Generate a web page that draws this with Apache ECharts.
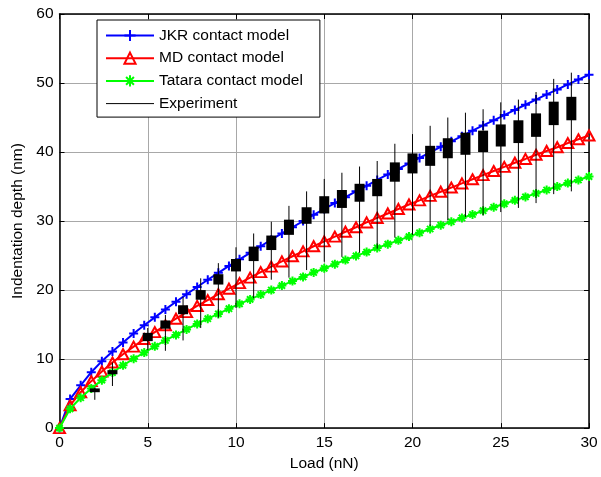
<!DOCTYPE html>
<html>
<head>
<meta charset="utf-8">
<script src="https://cdn.jsdelivr.net/npm/echarts@6/dist/echarts.min.js"></script>
<style>
html,body{margin:0;padding:0;background:#fff;}
#chart{width:601px;height:477px;}
</style>
</head>
<body>
<div id="chart"></div>
<script>
// ---- data ----
const loads = [0,0.6,1.2,1.8,2.4,3,3.6,4.2,4.8,5.4,6,6.6,7.2,7.8,8.4,9,9.6,10.2,10.8,11.4,12,12.6,13.2,13.8,14.4,15,15.6,16.2,16.8,17.4,18,18.6,19.2,19.8,20.4,21,21.6,22.2,22.8,23.4,24,24.6,25.2,25.8,26.4,27,27.6,28.2,28.8,29.4,30];
const jkr = [0,4.2,6.2,8.1,9.7,11.1,12.4,13.7,14.9,16.05,17.2,18.3,19.4,20.45,21.5,22.5,23.5,24.45,25.4,26.35,27.3,28.2,29.1,30.0,30.9,31.75,32.6,33.45,34.3,35.1,35.95,36.75,37.55,38.35,39.15,39.95,40.75,41.55,42.3,43.1,43.85,44.6,45.35,46.1,46.85,47.6,48.35,49.05,49.8,50.5,51.2];
const md = [0,3.3,5.2,6.8,8.2,9.5,10.7,11.8,12.9,13.9,14.9,15.85,16.8,17.7,18.55,19.4,20.2,21.0,21.8,22.6,23.4,24.15,24.9,25.6,26.35,27.05,27.75,28.45,29.1,29.8,30.45,31.1,31.75,32.4,33.0,33.65,34.25,34.85,35.45,36.05,36.65,37.25,37.85,38.45,39.0,39.6,40.15,40.7,41.3,41.85,42.4];
const tatara = [0,2.8,4.4,5.75,6.95,8.05,9.1,10.05,10.95,11.85,12.7,13.5,14.3,15.1,15.85,16.55,17.3,18.0,18.65,19.35,20.0,20.65,21.3,21.9,22.55,23.15,23.75,24.35,24.95,25.5,26.1,26.65,27.2,27.75,28.3,28.85,29.4,29.9,30.45,30.95,31.5,32.0,32.5,33.0,33.5,34.0,34.5,35.0,35.5,35.95,36.45];
const expLoad    = [2,3,5,6,7,8,9,10,11,12,13,14,15,16,17,18,19,20,21,22,23,24,25,26,27,28,29];
const expBoxLow  = [5.2,7.8,12.6,14.4,16.5,18.6,20.8,22.7,24.2,25.8,28.0,29.6,31.1,31.9,32.8,33.6,35.7,36.9,38.0,39.1,39.6,40.0,40.8,41.3,42.2,43.9,44.6];
const expBoxHigh = [5.75,8.4,13.8,15.6,17.8,20.0,22.3,24.5,26.3,27.9,30.2,32.0,33.6,34.5,35.4,36.1,38.5,39.8,40.9,42.0,42.8,43.1,44.0,44.6,45.6,47.3,48.0];
const expMin     = [4.1,6.1,11.3,11.2,12.7,14.5,16.0,17.4,18.8,21.5,21.8,22.9,24.1,24.8,25.4,26.0,27.6,28.0,29.3,30.1,30.6,30.8,31.3,31.9,32.6,33.9,34.3];
const expMax     = [5.9,9.5,14.5,16.4,19.0,21.7,23.9,26.2,28.2,29.9,32.2,34.3,36.1,37.0,37.9,38.7,41.2,42.6,43.8,45.0,45.7,46.2,47.2,47.6,48.7,50.6,51.5];
const xTicks = [0,5,10,15,20,25,30];
const yTicks = [0,10,20,30,40,50,60];
const seriesNames = ['JKR contact model','MD contact model','Tatara contact model','Experiment'];

const FONT = '"Liberation Sans", Arial, Helvetica, sans-serif';
const pair = (ys) => loads.map((x, i) => [x, ys[i]]);
const expData = expLoad.map((x, i) => [x, expBoxLow[i], expBoxHigh[i], expMin[i], expMax[i]]);

const plusPath = 'path://M5,0L5,10M0,5L10,5';
const triPath = 'path://M5,0L10,9L0,9Z';
const starPath = 'path://M5,0L5,10M0,5L10,5M1.5,1.5L8.5,8.5M8.5,1.5L1.5,8.5';

const chart = echarts.init(document.getElementById('chart'), null, {renderer: 'canvas'});

const axisCommon = {
  type: 'value',
  axisLine: {show: true, onZero: false, lineStyle: {color: '#000', width: 1.5}},
  axisTick: {show: true, inside: true, length: 5, lineStyle: {color: '#000', width: 1}},
};

chart.setOption({
  animation: false,
  backgroundColor: '#fff',
  grid: {left: 59.5, right: 12, top: 14, bottom: 46, containLabel: false},
  legend: {
    orient: 'vertical',
    left: 97, top: 20,
    data: [
      {name: seriesNames[0]},
      {name: seriesNames[1]},
      {name: seriesNames[2]},
      {name: seriesNames[3], itemStyle: {color: 'transparent', borderWidth: 0}, lineStyle: {width: 1, color: '#000'}}
    ],
    itemWidth: 48, itemHeight: 14, itemGap: 6.7,
    padding: [7.5, 17, 5.5, 8],
    backgroundColor: '#fff',
    borderColor: '#000', borderWidth: 1, borderRadius: 0,
    textStyle: {fontFamily: FONT, fontSize: 15.5, color: '#000', lineHeight: 16}
  },
  xAxis: [
    Object.assign({}, axisCommon, {
      min: 0, max: 30, interval: 5, position: 'bottom',
      name: 'Load (nN)', nameLocation: 'middle', nameGap: 27,
      nameTextStyle: {fontFamily: FONT, fontSize: 15.5, color: '#000'},
      axisLabel: {show: true, margin: 7, fontFamily: FONT, fontSize: 15.5, color: '#000',
        formatter: (v) => xTicks.includes(v) ? String(v) : ''},
      splitLine: {show: true, lineStyle: {color: '#a8a8a8', width: 1}}
    }),
    Object.assign({}, axisCommon, {
      min: 0, max: 30, interval: 5, position: 'top',
      axisLabel: {show: false}, splitLine: {show: false}
    })
  ],
  yAxis: [
    Object.assign({}, axisCommon, {
      min: 0, max: 60, interval: 10, position: 'left',
      name: 'Indentation depth (nm)', nameLocation: 'middle', nameGap: 33, nameRotate: 90,
      nameTextStyle: {fontFamily: FONT, fontSize: 15.5, color: '#000'},
      axisLabel: {show: true, margin: 6, fontFamily: FONT, fontSize: 15.5, color: '#000',
        formatter: (v) => yTicks.includes(v) ? String(v) : ''},
      splitLine: {show: true, lineStyle: {color: '#a8a8a8', width: 1}}
    }),
    Object.assign({}, axisCommon, {
      min: 0, max: 60, interval: 10, position: 'right',
      axisLabel: {show: false}, splitLine: {show: false}
    })
  ],
  series: [
    {
      name: seriesNames[0], type: 'line', data: pair(jkr),
      symbol: plusPath, symbolSize: 9, showAllSymbol: true,
      lineStyle: {color: '#0000ff', width: 2},
      itemStyle: {color: 'transparent', borderColor: '#0000ff', borderWidth: 2},
      z: 2
    },
    {
      name: seriesNames[1], type: 'line', data: pair(md),
      symbol: triPath, symbolSize: [11, 10], showAllSymbol: true,
      lineStyle: {color: '#ff0000', width: 2},
      itemStyle: {color: 'transparent', borderColor: '#ff0000', borderWidth: 2},
      z: 3
    },
    {
      name: seriesNames[2], type: 'line', data: pair(tatara),
      symbol: starPath, symbolSize: 9, showAllSymbol: true,
      lineStyle: {color: '#00ff00', width: 2},
      itemStyle: {color: 'transparent', borderColor: '#00ff00', borderWidth: 2},
      z: 4
    },
    {
      name: seriesNames[3], type: 'line', data: [],
      symbol: 'none',
      lineStyle: {color: '#000', width: 1},
      itemStyle: {color: 'transparent', borderWidth: 0}
    },
    {
      name: 'expBoxes', type: 'custom', data: expData, z: 5,
      encode: {x: 0, y: [1, 2, 3, 4]},
      renderItem: function (params, api) {
        const x = api.value(0);
        const top = api.coord([x, api.value(4)]);
        const bot = api.coord([x, api.value(3)]);
        const bTop = api.coord([x, api.value(2)]);
        const bBot = api.coord([x, api.value(1)]);
        const w = 10;
        return {
          type: 'group',
          children: [
            {type: 'line', shape: {x1: top[0], y1: top[1], x2: bot[0], y2: bot[1]},
              style: {stroke: '#000', lineWidth: 1}},
            {type: 'rect', shape: {x: bTop[0] - w / 2, y: bTop[1], width: w, height: bBot[1] - bTop[1]},
              style: {fill: '#000'}}
          ]
        };
      }
    }
  ]
});
</script>
</body>
</html>
